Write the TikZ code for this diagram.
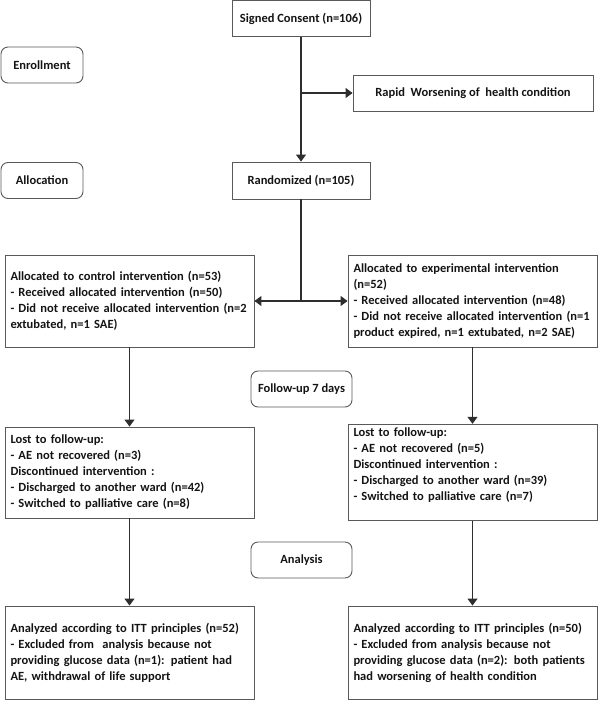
\documentclass[tikz,border=0pt]{standalone}
\usepackage{fontspec}
\setmainfont{Carlito}
\usetikzlibrary{arrows.meta}

\begin{document}
\begin{tikzpicture}[x=1pt,y=-1pt,
    every node/.style={font=\fontsize{12.5pt}{16pt}\selectfont\bfseries, text=black!92},
    box/.style={draw=black!65, line width=0.9pt, minimum height=36pt, inner sep=0pt},
    stage/.style={box, rounded corners=7pt, minimum width=82pt},
    wide/.style={draw=black!65, line width=0.9pt, text width=238pt, inner xsep=5.5pt, align=left},
    link/.style={draw=black!82, line width=1.1pt, -{Triangle[width=10pt,length=7pt]}}]
    \useasboundingbox (0,0) rectangle (600,702);

    % stages on the left and in the middle
    \node[stage] (enroll) at (42,65) {Enrollment};
    \node[stage] (alloc) at (42,180.5) {Allocation};
    \node[stage, minimum width=101pt] (follow) at (301.5,389) {Follow-up 7 days};
    \node[stage, minimum width=101pt] (analysis) at (301.5,560) {Analysis};

    % main flow
    \node[box, minimum width=138pt] (consent) at (301,18.5) {Signed Consent (n=106)};
    \node[box, minimum width=240pt] (worse) at (473,93) {Rapid\ \ Worsening of\ \ health condition};
    \node[box, minimum width=138pt, minimum height=37pt] (random) at (301,180.5) {Randomized (n=105)};

    \node[wide, minimum height=92pt] (ctrl) at (129.5,301) {Allocated to control intervention (n=53)\\
        - Received allocated intervention (n=50)\\
        - Did not receive allocated intervention (n=2\\
        extubated, n=1 SAE)};
    \node[wide, minimum height=92pt] (expt) at (472.5,301) {Allocated to experimental intervention\\
        (n=52)\\
        - Received allocated intervention (n=48)\\
        - Did not receive allocated intervention (n=1\\
        product expired, n=1 extubated, n=2 SAE)};

    \node[wide, minimum height=91pt] (lostc) at (129.5,472.5) {Lost to follow-up:\\
        - AE not recovered (n=3)\\
        Discontinued intervention :\\
        - Discharged to another ward (n=42)\\
        - Switched to palliative care (n=8)};
    \node[wide, minimum height=91pt, text depth=81pt] (loste) at (472.5,472.5) {Lost to follow-up:\\
        - AE not recovered (n=5)\\
        Discontinued intervention :\\
        - Discharged to another ward (n=39)\\
        - Switched to palliative care (n=7)};

    \node[wide, minimum height=93pt] (anac) at (129.5,652.5) {Analyzed according to ITT principles (n=52)\\
        - Excluded from\ \ analysis because not\\
        providing glucose data (n=1): patient had\\
        AE, withdrawal of life support};
    \node[wide, minimum height=93pt] (anae) at (472.5,652.5) {Analyzed according to ITT principles (n=50)\\
        - Excluded from analysis because not\\
        providing glucose data (n=2): both patients\\
        had worsening of health condition};

    % connectors
    \draw[link] (consent.south) -- (random.north);
    \draw[link] (consent.south |- worse.west) -- (worse.west);
    \coordinate (split) at (random.south |- ctrl.east);
    \draw[draw=black!82, line width=1.1pt] (random.south) -- (split);
    \draw[link] (split) -- (ctrl.east);
    \draw[link] (split) -- (expt.west);
    \foreach \a/\b in {ctrl/lostc, expt/loste, lostc/anac, loste/anae}
        \draw[link] (\a.south) -- (\b.north);
\end{tikzpicture}
\end{document}
